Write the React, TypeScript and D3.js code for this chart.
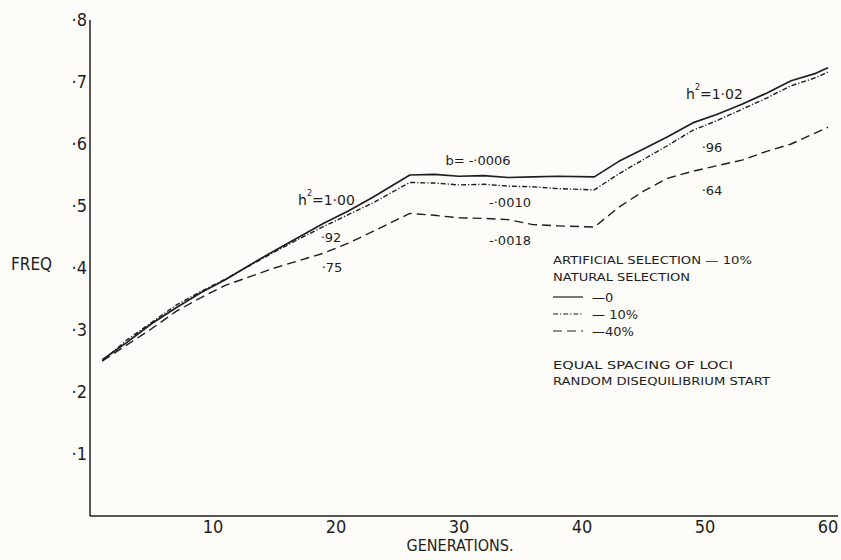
import React from "react";
import * as d3 from "d3";

const generations = [1, 3, 5, 7, 9, 11, 13, 15, 17, 19, 21, 23, 26, 28, 30, 32, 34, 36, 38, 41, 43, 45, 47, 49, 51, 53, 55, 57, 59, 60];
const sel0 = [0.252, 0.28, 0.31, 0.336, 0.36, 0.381, 0.405, 0.428, 0.45, 0.472, 0.492, 0.514, 0.55, 0.551, 0.548, 0.549, 0.546, 0.547, 0.548, 0.547, 0.572, 0.592, 0.612, 0.634, 0.648, 0.664, 0.682, 0.702, 0.714, 0.723];
const sel10 = [0.25, 0.284, 0.312, 0.34, 0.362, 0.382, 0.404, 0.426, 0.447, 0.467, 0.486, 0.505, 0.538, 0.537, 0.534, 0.535, 0.532, 0.531, 0.528, 0.526, 0.552, 0.575, 0.598, 0.622, 0.638, 0.656, 0.674, 0.694, 0.707, 0.716];
const sel40 = [0.25, 0.276, 0.302, 0.33, 0.352, 0.372, 0.386, 0.4, 0.412, 0.424, 0.44, 0.459, 0.488, 0.485, 0.481, 0.48, 0.478, 0.47, 0.468, 0.466, 0.498, 0.524, 0.545, 0.556, 0.565, 0.574, 0.588, 0.6, 0.618, 0.627];
const xTicks = [10, 20, 30, 40, 50, 60];
const yTicks = [0.1, 0.2, 0.3, 0.4, 0.5, 0.6, 0.7, 0.8];
const yTickLabels = ["·1", "·2", "·3", "·4", "·5", "·6", "·7", "·8"];
const legendLabels = ["—0", "— 10%", "—40%"];

const INK = "#1e1e1e";
const FONT = "'DejaVu Sans Condensed', 'Liberation Sans Narrow', 'DejaVu Sans', sans-serif";
const LFONT = "'DejaVu Sans', 'Liberation Sans', sans-serif";

export default function App() {
  const x = d3.scaleLinear().domain([0, 60]).range([90, 828]);
  const y = d3.scaleLinear().domain([0, 0.8]).range([516, 20]);
  const line = (vals: number[]) =>
    d3.line<number>().x((_, i) => x(generations[i])).y((v) => y(v)).curve(d3.curveLinear)(vals) || "";

  const series = [
    { vals: sel0, dash: undefined as string | undefined, w: 1.7 },
    { vals: sel10, dash: "5,2,1.2,2", w: 1.4 },
    { vals: sel40, dash: "9,5", w: 1.4 },
  ];

  const ann = (txt: string, cx: number, cy: number, size = 13) => (
    <text x={cx} y={cy} textAnchor="middle" fontSize={size} fontFamily={LFONT} fill={INK}>{txt}</text>
  );

  const hsq = (val: string, x0: number, y0: number) => (
    <text x={x0} y={y0} fontSize={14} fontFamily={LFONT} fill={INK}>
      h
      <tspan fontSize={8} dy={-9}>2</tspan>
      <tspan dy={9}>={val}</tspan>
    </text>
  );

  return (
    <svg width={841} height={560} style={{ position: "absolute", left: 0, top: 0, background: "#fdfcf8" }}>
      <rect x={0} y={0} width={841} height={560} fill="#fdfcf8" />
      {/* axes */}
      <line x1={x(0)} y1={y(0.8)} x2={x(0)} y2={y(0)} stroke={INK} strokeWidth={1.5} />
      <line x1={x(0)} y1={y(0)} x2={838} y2={y(0)} stroke={INK} strokeWidth={1.5} />
      {yTicks.map((t, i) => (
        <text key={t} x={87} y={y(t) + 6} textAnchor="end" fontSize={18} fontFamily={FONT} fill={INK}>{yTickLabels[i]}</text>
      ))}
      {xTicks.map((t) => (
        <text key={t} x={x(t)} y={533} textAnchor="middle" fontSize={18} fontFamily={FONT} fill={INK}>{t}</text>
      ))}
      <text x={460} y={551} textAnchor="middle" fontSize={16} fontFamily={FONT} fill={INK}>GENERATIONS.</text>
      <text x={11} y={270} fontSize={17} fontFamily={FONT} fill={INK}>FREQ</text>

      {/* series */}
      {series.map((s, i) => (
        <path key={i} d={line(s.vals)} fill="none" stroke={INK} strokeWidth={s.w} strokeDasharray={s.dash} strokeLinejoin="round" />
      ))}

      {/* annotations */}
      {hsq("1·00", 298, 205)}
      {ann("·92", 331, 242)}
      {ann("·75", 332, 272)}
      {ann("b= -·0006", 478, 165)}
      {ann("-·0010", 510, 207)}
      {ann("-·0018", 510, 245)}
      {hsq("1·02", 686, 99)}
      {ann("·96", 712, 152)}
      {ann("·64", 712, 195)}

      {/* legend */}
      <text x={553} y={264} fontSize={11} fontFamily={LFONT} fill={INK} textLength={199} lengthAdjust="spacingAndGlyphs">ARTIFICIAL SELECTION — 10%</text>
      <text x={553} y={281} fontSize={11} fontFamily={LFONT} fill={INK} textLength={137} lengthAdjust="spacingAndGlyphs">NATURAL  SELECTION</text>
      {series.map((s, i) => (
        <g key={i}>
          <line x1={553} x2={583} y1={297 + i * 17} y2={297 + i * 17} stroke={INK} strokeWidth={1.2} strokeDasharray={s.dash} />
          <text x={592} y={302 + i * 17} fontSize={13} fontFamily={LFONT} fill={INK}>{legendLabels[i]}</text>
        </g>
      ))}
      <text x={553} y={369} fontSize={11} fontFamily={LFONT} fill={INK} textLength={180} lengthAdjust="spacingAndGlyphs">EQUAL  SPACING  OF  LOCI</text>
      <text x={553} y={385} fontSize={11} fontFamily={LFONT} fill={INK} textLength={217} lengthAdjust="spacingAndGlyphs">RANDOM  DISEQUILIBRIUM  START</text>
    </svg>
  );
}
